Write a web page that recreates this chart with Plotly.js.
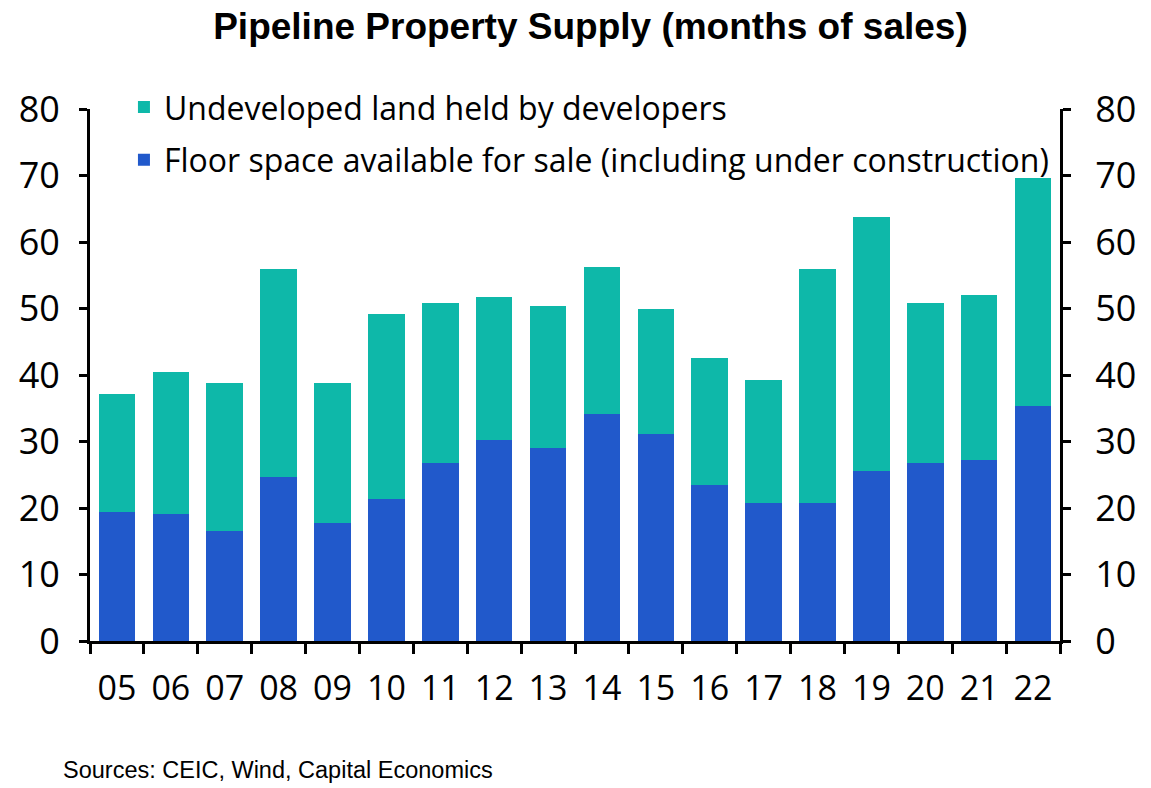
<!DOCTYPE html>
<html>
<head>
<meta charset="utf-8">
<script src="https://cdn.plot.ly/plotly-3.0.1.min.js"></script>
<style>html,body{margin:0;padding:0;background:#fff;}#chart{width:1151px;height:788px;}</style>
</head>
<body>
<div id="chart"></div>
<script>
var years = ["05","06","07","08","09","10","11","12","13","14","15","16","17","18","19","20","21","22"];
var floorSpace = [19.4, 19.1, 16.6, 24.6, 17.8, 21.3, 26.8, 30.2, 29.0, 34.1, 31.1, 23.4, 20.8, 20.8, 25.5, 26.8, 27.2, 35.3];
var totalSupply = [37.1, 40.5, 38.8, 55.9, 38.8, 49.1, 50.8, 51.7, 50.4, 56.3, 49.9, 42.6, 39.2, 55.9, 63.7, 50.8, 52.1, 69.6];
var undevelopedLand = totalSupply.map(function(t, i){ return +(t - floorSpace[i]).toFixed(1); });
var seriesNames = ["Undeveloped land held by developers", "Floor space available for sale (including under construction)"];
var titleText = "Pipeline Property Supply (months of sales)";
var sourceText = "Sources: CEIC, Wind, Capital Economics";

var yTickFont = {family: "Open Sans, Noto Sans, sans-serif", size: 36, color: "#000"};
var xTickFont = {family: "Open Sans, Noto Sans, sans-serif", size: 34, color: "#000"};

var traces = [
  {type: "bar", name: seriesNames[1], legendgroup: "b", legendrank: 2, x: years, y: floorSpace, marker: {color: "#2159CB"}, hoverinfo: "x+y"},
  {type: "bar", name: seriesNames[0], legendgroup: "a", legendrank: 1, x: years, y: undevelopedLand, marker: {color: "#0EB8A9"}, hoverinfo: "x+y"},
  {type: "bar", x: years, y: years.map(function(){return null;}), yaxis: "y2", showlegend: false, hoverinfo: "skip"}
];

var layout = {
  width: 1151, height: 788,
  paper_bgcolor: "#fff", plot_bgcolor: "#fff",
  barmode: "stack", bargap: 0.32,
  margin: {l: 90, r: 91, t: 109, b: 147},
  title: {text: "<b>" + titleText + "</b>", x: 0.513, xanchor: "center", y: 0.967, yanchor: "middle",
          font: {family: "Liberation Sans, Arial, sans-serif", size: 37, color: "#000"}},
  xaxis: {
    type: "category", showline: true, linecolor: "#000", linewidth: 3,
    ticks: "outside", tickson: "boundaries", ticklen: 10, tickwidth: 3, tickcolor: "#000",
    tickfont: xTickFont, ticklabelstandoff: 15, showgrid: false, zeroline: false, automargin: false
  },
  yaxis: {
    range: [0, 80], dtick: 10, showline: true, linecolor: "#000", linewidth: 3,
    ticks: "outside", ticklen: 8, tickwidth: 3, tickcolor: "#000", ticklabelstandoff: 12,
    tickfont: yTickFont, showgrid: false, zeroline: false, automargin: false
  },
  yaxis2: {
    range: [0, 80], dtick: 10, overlaying: "y", side: "right", showline: true, linecolor: "#000", linewidth: 3,
    ticks: "outside", ticklen: 8, tickwidth: 3, tickcolor: "#000", ticklabelstandoff: 17,
    tickfont: yTickFont, showgrid: false, zeroline: false, automargin: false
  },
  legend: {
    x: 0.035, y: 1.055, xanchor: "left", yanchor: "top", traceorder: "grouped",
    bgcolor: "rgba(0,0,0,0)", font: {family: "Open Sans, Noto Sans, sans-serif", size: 32, color: "#000"},
    tracegroupgap: 8, itemwidth: 30
  },
  annotations: [
    {text: sourceText, xref: "paper", yref: "paper", x: -0.03, y: -0.242, xanchor: "left", yanchor: "middle",
     showarrow: false, font: {family: "Liberation Sans, Arial, sans-serif", size: 23.5, color: "#000"}}
  ],
  showlegend: true
};

Plotly.newPlot("chart", traces, layout, {displayModeBar: false, responsive: false});
</script>
</body>
</html>
